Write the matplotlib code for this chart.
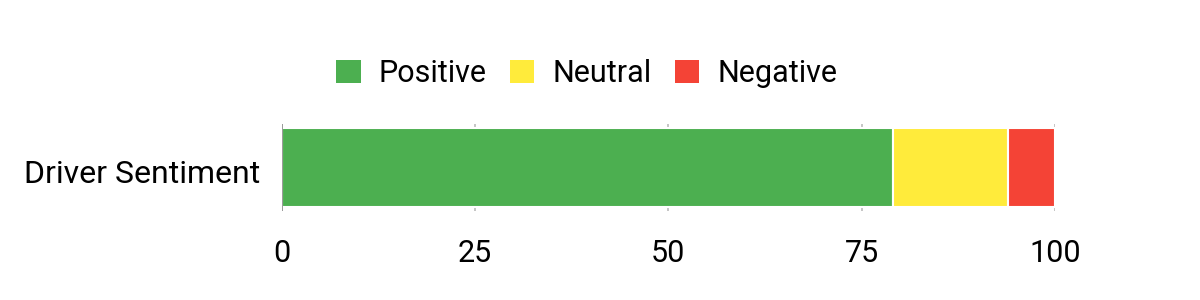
import matplotlib
matplotlib.use("Agg")
import matplotlib.pyplot as plt
import matplotlib.transforms as mtransforms
from matplotlib.patches import Patch

categories = ["Driver Sentiment"]
series_names = ["Positive", "Neutral", "Negative"]
positive = [79]
neutral = [15]
negative = [6]
colors = ["#4CAF50", "#FFEB3B", "#F44336"]
xticks = [0, 25, 50, 75, 100]

plt.rcParams['font.family'] = ['Roboto', 'DejaVu Sans']

fig = plt.figure(figsize=(12, 3), dpi=100)
ax = fig.add_axes([0.235, 0.297, 0.644, 0.29])

left = [0] * len(categories)
for name, vals, c in zip(series_names, [positive, neutral, negative], colors):
    ax.barh(categories, vals, left=left, height=0.9, color=c,
            edgecolor="white", linewidth=1.5, zorder=3, label=name)
    left = [l + v for l, v in zip(left, vals)]

ax.set_xlim(0, 100)
ax.set_ylim(-0.5, 0.5)
ax.set_xticks(xticks)
ax.set_xticklabels([str(t) for t in xticks])
for t in xticks:
    ax.axvline(t, color="#888888" if t == 0 else "#bbbbbb",
               linewidth=1.2, zorder=1 if t else 4)
for s in ax.spines.values():
    s.set_visible(False)
ax.tick_params(axis="x", length=0, labelsize=22, pad=20)
ax.tick_params(axis="y", length=0, labelsize=23, pad=16)
offset = mtransforms.ScaledTranslation(0, -3 / 72, fig.dpi_scale_trans)
for lab in ax.get_yticklabels():
    lab.set_transform(lab.get_transform() + offset)

handles = [Patch(facecolor=c, edgecolor="none") for c in colors]
fig.legend(handles, series_names, loc="center", bbox_to_anchor=(0.489, 0.755),
           ncol=3, frameon=False, fontsize=22, handlelength=0.8,
           handleheight=0.8, handletextpad=0.6, columnspacing=0.75)

fig.savefig("out.png", dpi=100, facecolor="white")
